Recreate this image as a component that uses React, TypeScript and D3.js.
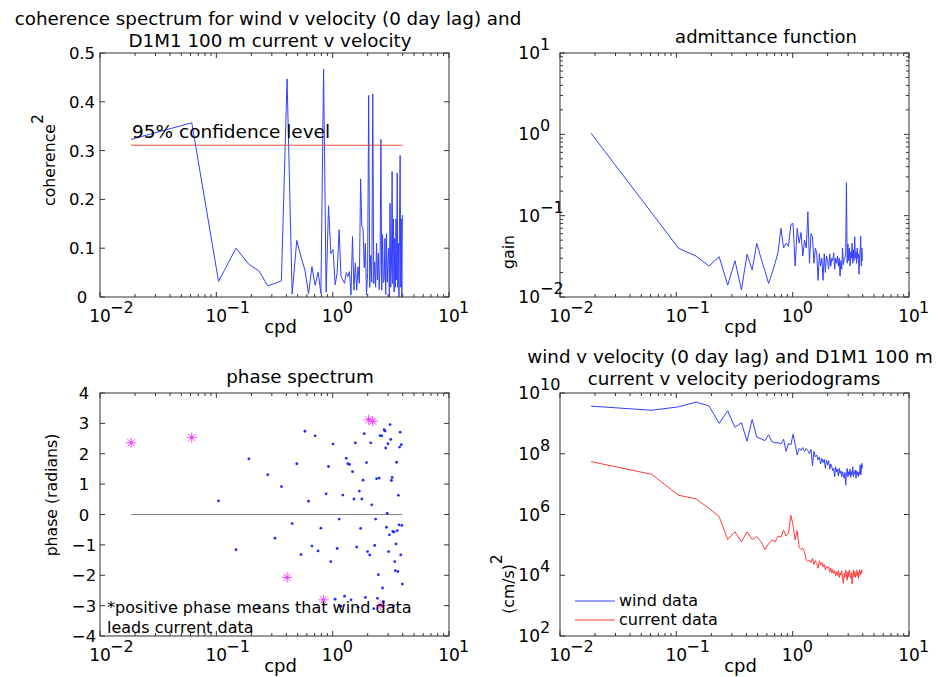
import React from "react";
import * as d3 from "d3";

// ---------------- data ----------------
const freq = [
  0.0185, 0.0615, 0.1045, 0.1475, 0.1905, 0.2335, 0.2765, 0.3195, 0.3625, 0.4055,
  0.4485, 0.4915, 0.5345, 0.5775, 0.6205, 0.6635, 0.7065, 0.7495, 0.7925, 0.8355,
  0.8785, 0.9215, 0.9645, 1.0075, 1.0505, 1.0935, 1.1365, 1.1795, 1.2225, 1.2655,
  1.3085, 1.3515, 1.3945, 1.4375, 1.4805, 1.5235, 1.5665, 1.6095, 1.6525, 1.6955,
  1.7385, 1.7815, 1.8245, 1.8675, 1.9105, 1.9535, 1.9965, 2.0395, 2.0825, 2.1255,
  2.1685, 2.2115, 2.2545, 2.2975, 2.3405, 2.3835, 2.4265, 2.4695, 2.5125, 2.5555,
  2.5985, 2.6415, 2.6845, 2.7275, 2.7705, 2.8135, 2.8565, 2.8995, 2.9425, 2.9855,
  3.0285, 3.0715, 3.1145, 3.1575, 3.2005, 3.2435, 3.2865, 3.3295, 3.3725, 3.4155,
  3.4585, 3.5015, 3.5445, 3.5875, 3.6305, 3.6735, 3.7165, 3.7595, 3.8025, 3.8455,
  3.8885, 3.9315, 3.9745,
];

const coherence = [
  0.323, 0.357, 0.032, 0.100, 0.067, 0.053, 0.023, 0.028, 0.033, 0.447,
  0.006, 0.116, 0.082, 0.055, 0.007, 0.062, 0.024, 0.051, 0.007, 0.467,
  0.010, 0.187, 0.089, 0.097, 0.025, 0.050, 0.138, 0.042, 0.035, 0.028,
  0.050, 0.042, 0.052, 0.004, 0.124, 0.014, 0.070, 0.014, 0.062, 0.028,
  0.242, 0.145, 0.140, 0.060, 0.110, 0.004, 0.050, 0.413, 0.020, 0.085,
  0.030, 0.416, 0.027, 0.072, 0.020, 0.110, 0.035, 0.090, 0.015, 0.060,
  0.323, 0.014, 0.128, 0.030, 0.034, 0.120, 0.005, 0.130, 0.030, 0.070,
  0.100, 0.000, 0.192, 0.020, 0.060, 0.257, 0.027, 0.160, 0.010, 0.120,
  0.020, 0.160, 0.035, 0.254, 0.020, 0.110, 0.000, 0.170, 0.290, 0.020,
  0.160, 0.000, 0.168,
];

const confidenceLevel = 0.311;

const gain = [
  1.03, 0.108, 0.0397, 0.0319, 0.024, 0.0313, 0.014, 0.0279, 0.0122, 0.0335,
  0.0215, 0.0457, 0.030, 0.021, 0.0147, 0.0195, 0.026, 0.036, 0.070, 0.040,
  0.046, 0.042, 0.078, 0.080, 0.024, 0.070, 0.046, 0.062, 0.032, 0.050,
  0.040, 0.112, 0.026, 0.060, 0.055, 0.026, 0.040, 0.035, 0.016, 0.034,
  0.024, 0.030, 0.016, 0.034, 0.020, 0.032, 0.028, 0.022, 0.034, 0.024,
  0.030, 0.028, 0.035, 0.022, 0.030, 0.026, 0.032, 0.024, 0.030, 0.018,
  0.028, 0.022, 0.040, 0.025, 0.030, 0.030, 0.035, 0.255, 0.026, 0.045,
  0.028, 0.040, 0.024, 0.036, 0.030, 0.046, 0.026, 0.038, 0.028, 0.055,
  0.030, 0.036, 0.026, 0.040, 0.030, 0.034, 0.019, 0.030, 0.038, 0.056,
  0.024, 0.040, 0.028,
];

const phase = [
  2.36, 2.53, 0.45, -1.16, 1.83, -3.05, 1.31, -0.78, 0.92, -2.07,
  -0.30, 1.67, -1.32, 2.74, 0.44, -1.04, 2.59, -1.20, -0.45, -2.81,
  0.68, 1.58, -1.55, 2.32, -2.79, -1.12, -0.15, -3.02, 0.64, -2.69,
  1.85, 1.67, 1.65, -2.81, 1.41, 0.51, 2.36, -1.07, -3.05, 0.77,
  -0.46, 0.51, 1.13, 2.66, -2.73, 1.71, -1.22, 3.12, -1.33, 2.36,
  0.32, 3.07, -3.10, -1.02, -0.15, 1.18, -2.76, -1.98, 1.20, 2.60,
  -3.00, 2.59, -2.42, -2.87, 2.79, 2.75, 2.19, -0.42, 0.04, 2.33,
  -1.22, -0.67, 2.96, 2.47, 1.12, 1.22, -0.56, -3.00, -0.58, -1.55,
  -1.85, -0.97, 1.72, -0.53, -1.88, 0.63, -0.34, 2.22, 2.71, -1.33,
  2.30, -0.36, -2.29,
];

const windPower = [
  3.7e9, 2.7e9, 3.5e9, 5.0e9, 3.8e9, 1.0e9, 2.6e9, 7.4e8, 1.05e9, 2.6e8,
  1.35e9, 3.5e8, 3.1e8, 2.7e8, 4.2e8, 2.5e8, 2.3e8, 2.3e8, 2.1e8, 3.0e8,
  1.2e8, 2.2e8, 1.95e8, 4.4e8, 2.1e8, 9.1e7, 1.5e8, 1.3e8, 1.6e8, 1.2e8,
  1.5e8, 1.26e8, 1.0e8, 1.4e8, 4.0e7, 1.2e8, 7.9e7, 9.1e7, 6.2e7, 7.9e7,
  4.6e7, 7.1e7, 5.1e7, 6.6e7, 3.3e7, 6.2e7, 4.3e7, 5.9e7, 3.1e7, 4.6e7,
  3.7e7, 2.75e7, 3.3e7, 1.74e7, 3.7e7, 2.57e7, 3.1e7, 1.86e7, 3.3e7, 2.24e7,
  2.75e7, 1.74e7, 2.57e7, 2.1e7, 1.55e7, 2.4e7, 9.3e6, 2.24e7, 3.3e7, 1.74e7,
  2.57e7, 2.0e7, 3.1e7, 1.66e7, 2.57e7, 2.0e7, 3.7e7, 1.74e7, 2.57e7, 2.24e7,
  2.9e7, 1.55e7, 2.75e7, 2.0e7, 2.4e7, 1.74e7, 2.57e7, 2.1e7, 4.3e7, 2.0e7,
  2.75e7, 4.8e7, 3.3e7,
];

const currentPower = [
  5.5e7, 2.1e7, 4.3e6, 3.3e6, 1.6e6, 8.5e5, 1.5e5, 2.7e5, 1.26e5, 2.7e5,
  1.5e5, 1.86e5, 1.26e5, 7.1e4, 1.07e5, 1.45e5, 1.26e5, 1.95e5, 1.8e5, 3.1e5,
  1.95e5, 2.5e5, 9.5e5, 4.5e5, 1.45e5, 2.95e5, 8.3e4, 7.1e4, 7.6e4, 5.9e4,
  3.2e4, 2.8e4, 3.2e4, 2.6e4, 3.6e4, 2.3e4, 3.0e4, 2.45e4, 1.7e4, 3.0e4,
  2.2e4, 2.6e4, 1.9e4, 2.3e4, 1.5e4, 2.0e4, 1.7e4, 1.9e4, 1.3e4, 1.7e4,
  1.2e4, 1.55e4, 1.15e4, 1.4e4, 9.3e3, 1.3e4, 1.0e4, 1.4e4, 8.5e3, 1.2e4,
  1.0e4, 1.4e4, 7.9e3, 5.4e3, 1.15e4, 8.5e3, 1.5e4, 1.0e4, 6.9e3, 1.3e4,
  8.9e3, 1.5e4, 1.0e4, 7.9e3, 1.2e4, 5.1e3, 1.0e4, 1.5e4, 8.9e3, 1.3e4,
  8.5e3, 1.15e4, 1.5e4, 9.3e3, 1.3e4, 7.9e3, 1.15e4, 1.55e4, 1.0e4, 1.3e4,
  1.15e4, 1.5e4, 1.3e4,
];

const linTicksCoh = [0, 0.1, 0.2, 0.3, 0.4, 0.5];
const linTicksPhase = [-4, -3, -2, -1, 0, 1, 2, 3, 4];
const gainLabelExps = [-2, -1, 0, 1];
const powerLabelExps = [2, 4, 6, 8, 10];
const legendLabels = ["wind data", "current data"];

// ---------------- layout ----------------
const FONT = "DejaVu Sans, Verdana, sans-serif";
const L1 = 100, R1 = 449, L2 = 560, R2 = 909;
const T1 = 53, B1 = 297, T2 = 393, B2 = 636;
const BLUE = "#3340ff";
const RED = "#ff3b3b";
const MAGENTA = "#ff44ff";
const AXIS = "#333";

const xLeft = d3.scaleLog().domain([1e-2, 1e1]).range([L1, R1]);
const xRight = d3.scaleLog().domain([1e-2, 1e1]).range([L2, R2]);
const yCoh = d3.scaleLinear().domain([0, 0.5]).range([B1, T1]);
const yGain = d3.scaleLog().domain([1e-2, 1e1]).range([B1, T1]);
const yPhase = d3.scaleLinear().domain([-4, 4]).range([B2, T2]);
const yPow = d3.scaleLog().domain([1e2, 1e10]).range([B2, T2]);

const isDecade = (v: number) => Math.abs(Math.log10(v) - Math.round(Math.log10(v))) < 1e-9;
const expStr = (e: number) => (e < 0 ? "\u2212" + -e : String(e));

function Box({ l, r, t, b }: any) {
  return <rect x={l} y={t} width={r - l} height={b - t} fill="none" stroke={AXIS} strokeWidth={1} />;
}

function LogXAxis({ x, t, b }: any) {
  const ticks = x.ticks();
  return (
    <g>
      {ticks.map((v: number, i: number) => {
        const px = x(v);
        const major = isDecade(v);
        const len = major ? 5 : 3;
        return (
          <g key={i} stroke={AXIS} strokeWidth={1}>
            <line x1={px} x2={px} y1={b} y2={b - len} />
            <line x1={px} x2={px} y1={t} y2={t + len} />
          </g>
        );
      })}
      {ticks.filter(isDecade).map((v: number, i: number) => {
        const px = x(v);
        const e = Math.round(Math.log10(v));
        return (
          <g key={"l" + i} fontFamily={FONT} fill="#000">
            <text x={px} y={b + 25} textAnchor="middle" fontSize={17}>10</text>
            <text x={px + 10} y={b + 16} fontSize={16}>{expStr(e)}</text>
          </g>
        );
      })}
      <text x={(x.range()[0] + x.range()[1]) / 2 + 6} y={b + 36} textAnchor="middle" fontFamily={FONT} fontSize={18}>cpd</text>
    </g>
  );
}

function LinYAxis({ y, ticks, l, r, labelX }: any) {
  return (
    <g>
      {ticks.map((v: number, i: number) => {
        const py = y(v);
        return (
          <g key={i}>
            <line x1={l} x2={l + 5} y1={py} y2={py} stroke={AXIS} />
            <line x1={r} x2={r - 5} y1={py} y2={py} stroke={AXIS} />
            <text x={labelX} y={py + 6} textAnchor="middle" fontFamily={FONT} fontSize={16.5}>
              {v < 0 ? "\u2212" + Math.abs(v) : String(v)}
            </text>
          </g>
        );
      })}
    </g>
  );
}

function LogYAxis({ y, l, r, labelExps, minor }: any) {
  const ticks = minor ? y.ticks() : labelExps.map((e: number) => Math.pow(10, e));
  return (
    <g>
      {ticks.map((v: number, i: number) => {
        const py = y(v);
        const major = isDecade(v);
        const len = major ? 5 : 3;
        return (
          <g key={i} stroke={AXIS}>
            <line x1={l} x2={l + len} y1={py} y2={py} />
            <line x1={r} x2={r - len} y1={py} y2={py} />
          </g>
        );
      })}
      {labelExps.map((e: number, i: number) => {
        const py = y(Math.pow(10, e));
        return (
          <g key={"l" + i} fontFamily={FONT}>
            <text x={l - 20} y={py + 6} textAnchor="end" fontSize={17}>10</text>
            <text x={l - 20} y={py - 3} fontSize={16}>{expStr(e)}</text>
          </g>
        );
      })}
    </g>
  );
}

function Star({ cx, cy }: any) {
  const a = 5, d = 3.6;
  return (
    <g stroke={MAGENTA} strokeWidth={1}>
      <line x1={cx - a} x2={cx + a} y1={cy} y2={cy} />
      <line x1={cx} x2={cx} y1={cy - a} y2={cy + a} />
      <line x1={cx - d} x2={cx + d} y1={cy - d} y2={cy + d} />
      <line x1={cx - d} x2={cx + d} y1={cy + d} y2={cy - d} />
    </g>
  );
}

export default function App() {
  const idx = d3.range(freq.length);
  const cohLine = d3.line<number>().x((i) => xLeft(freq[i])).y((i) => yCoh(coherence[i]))(idx) || "";
  const gainLine = d3.line<number>().x((i) => xRight(freq[i])).y((i) => yGain(gain[i]))(idx) || "";
  const windLine = d3.line<number>().x((i) => xRight(freq[i])).y((i) => yPow(windPower[i]))(idx) || "";
  const curLine = d3.line<number>().x((i) => xRight(freq[i])).y((i) => yPow(currentPower[i]))(idx) || "";
  const f0 = freq[0], fN = freq[freq.length - 1];

  return (
    <div style={{ position: "absolute", left: 0, top: 0 }}>
      <svg width={938} height={677} style={{ display: "block", background: "#fff" }}>
        <g fontFamily={FONT} fill="#000">
          {/* ---------- panel 1: coherence ---------- */}
          <text x={268} y={25} textAnchor="middle" fontSize={18.3}>coherence spectrum for wind v velocity (0 day lag) and</text>
          <text x={270} y={47} textAnchor="middle" fontSize={18.3}>D1M1 100 m current v velocity</text>
          <path d={cohLine} fill="none" stroke={BLUE} strokeWidth={1} />
          <line x1={xLeft(f0)} x2={xLeft(fN)} y1={yCoh(confidenceLevel)} y2={yCoh(confidenceLevel)} stroke="#e8503c" strokeWidth={1} />
          <text x={132} y={138} fontSize={18.5}>95% confidence level</text>
          <Box l={L1} r={R1} t={T1} b={B1} />
          <LogXAxis x={xLeft} t={T1} b={B1} />
          <LinYAxis y={yCoh} ticks={linTicksCoh} l={L1} r={R1} labelX={82} />
          <text transform={`translate(55,160) rotate(-90)`} textAnchor="middle" fontSize={15.7}>
            coherence<tspan dy={-12} fontSize={15.7}>2</tspan>
          </text>

          {/* ---------- panel 2: admittance ---------- */}
          <text x={766} y={43} textAnchor="middle" fontSize={18}>admittance function</text>
          <path d={gainLine} fill="none" stroke={BLUE} strokeWidth={1} />
          <Box l={L2} r={R2} t={T1} b={B1} />
          <LogXAxis x={xRight} t={T1} b={B1} />
          <LogYAxis y={yGain} l={L2} r={R2} labelExps={gainLabelExps} minor={true} />
          <text transform={`translate(514,252) rotate(-90)`} textAnchor="middle" fontSize={15.7}>gain</text>

          {/* ---------- panel 3: phase ---------- */}
          <text x={300} y={383} textAnchor="middle" fontSize={18.3}>phase spectrum</text>
          <line x1={xLeft(f0)} x2={xLeft(fN)} y1={yPhase(0)} y2={yPhase(0)} stroke="#888" strokeWidth={1} />
          {idx.map((i) => (
            <circle key={i} cx={xLeft(freq[i])} cy={yPhase(phase[i])} r={1.4} fill="#1f2cff" />
          ))}
          {idx.filter((i) => coherence[i] > confidenceLevel).map((i) => (
            <Star key={"s" + i} cx={xLeft(freq[i])} cy={yPhase(phase[i])} />
          ))}
          <text x={107} y={613} fontSize={16}>*positive phase means that wind data</text>
          <text x={107} y={633} fontSize={16}>leads current data</text>
          <Box l={L1} r={R1} t={T2} b={B2} />
          <LogXAxis x={xLeft} t={T2} b={B2} />
          <LinYAxis y={yPhase} ticks={linTicksPhase} l={L1} r={R1} labelX={84} />
          <text transform={`translate(57,495) rotate(-90)`} textAnchor="middle" fontSize={15.7}>phase (radians)</text>

          {/* ---------- panel 4: periodograms ---------- */}
          <text x={730} y={363} textAnchor="middle" fontSize={18.3}>wind v velocity (0 day lag) and D1M1 100 m</text>
          <text x={734} y={385} textAnchor="middle" fontSize={18.3}>current v velocity periodograms</text>
          <path d={windLine} fill="none" stroke={BLUE} strokeWidth={1} />
          <path d={curLine} fill="none" stroke={RED} strokeWidth={1} />
          {legendLabels.map((lab, i) => (
            <g key={lab}>
              <line x1={575} x2={615} y1={601 + i * 19} y2={601 + i * 19} stroke={i === 0 ? BLUE : RED} />
              <text x={619} y={606 + i * 19} fontSize={16}>{lab}</text>
            </g>
          ))}
          <Box l={L2} r={R2} t={T2} b={B2} />
          <LogXAxis x={xRight} t={T2} b={B2} />
          <LogYAxis y={yPow} l={L2} r={R2} labelExps={powerLabelExps} minor={false} />
          <text transform={`translate(514,584) rotate(-90)`} textAnchor="middle" fontSize={15.7}>
            (cm/s)<tspan dy={-12}>2</tspan>
          </text>
        </g>
      </svg>
    </div>
  );
}
